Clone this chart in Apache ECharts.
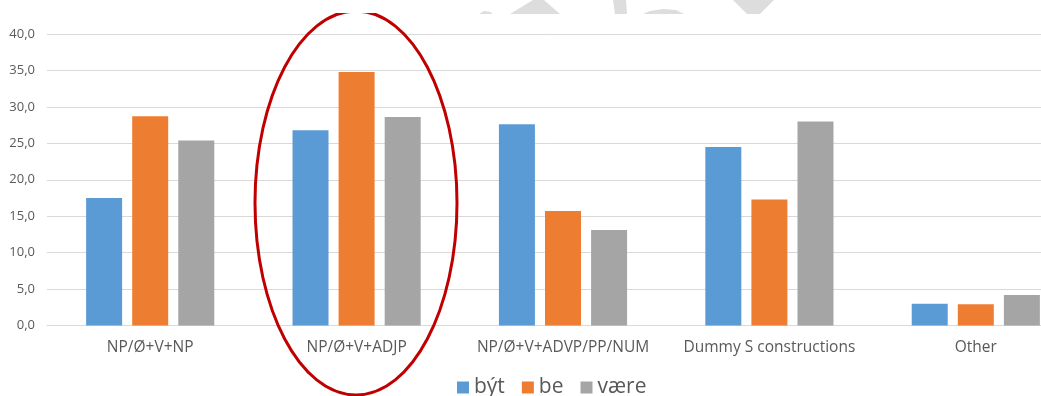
<!DOCTYPE html>
<html>
<head>
<meta charset="utf-8">
<script src="https://cdn.jsdelivr.net/npm/echarts@6/dist/echarts.min.js"></script>
<style>
html,body{margin:0;padding:0;background:#fff;}
#chart{width:1041px;height:396px;}
</style>
</head>
<body>
<div id="chart"></div>
<script>
const categories = ['NP/Ø+V+NP', 'NP/Ø+V+ADJP', 'NP/Ø+V+ADVP/PP/NUM', 'Dummy S constructions', 'Other'];
const bytValues = [17.5, 26.8, 27.6, 24.5, 3.0];
const beValues = [28.7, 34.8, 15.7, 17.3, 2.9];
const vaereValues = [25.4, 28.6, 13.1, 28.0, 4.2];
const seriesNames = ['být', 'be', 'være'];
const colors = ['#5B9BD5', '#ED7D31', '#A5A5A5'];

const chart = echarts.init(document.getElementById('chart'));
const font = '"Open Sans", Lato, sans-serif';
chart.setOption({
  animation: false,
  color: colors,
  textStyle: { fontFamily: font },
  grid: { left: 47, top: 34, width: 1032, height: 291.5, containLabel: false, outerBoundsMode: 'none' },
  legend: {
    left: 452, top: 372,
    itemWidth: 12, itemHeight: 12, itemGap: 17,
    icon: 'rect',
    textStyle: { color: '#595959', fontSize: 21, fontFamily: font },
    data: seriesNames
  },
  xAxis: {
    type: 'category',
    data: categories,
    axisLine: { lineStyle: { color: '#D9D9D9', width: 1 } },
    axisTick: { show: false },
    axisLabel: { color: '#595959', fontSize: 15.5, margin: 14, fontFamily: font, interval: 0 }
  },
  yAxis: {
    type: 'value',
    min: 0, max: 40, interval: 5,
    axisLine: { show: false },
    axisTick: { show: false },
    splitLine: { lineStyle: { color: '#D9D9D9', width: 1 } },
    axisLabel: {
      color: '#595959', fontSize: 13, margin: 12, fontFamily: font,
      formatter: v => v.toFixed(1).replace('.', ',')
    }
  },
  series: [
    { name: seriesNames[0], type: 'bar', data: bytValues, barWidth: 36, barGap: '28%' },
    { name: seriesNames[1], type: 'bar', data: beValues, barWidth: 36, barGap: '28%' },
    { name: seriesNames[2], type: 'bar', data: vaereValues, barWidth: 36, barGap: '28%' }
  ],
  graphic: [
    { type: 'ellipse', z: 100, shape: { cx: 356, cy: 203, rx: 101, ry: 192 }, style: { fill: 'none', stroke: '#C00000', lineWidth: 3 } },
    { type: 'rect', z: 101, shape: { x: 0, y: 0, width: 1041, height: 13 }, style: { fill: '#FFFFFF' } },
    { type: 'polygon', z: 102, shape: { points: [[510,14],[533,0],[544,0],[560,14]] }, style: { fill: '#DDDDDD' } },
    { type: 'polygon', z: 102, shape: { points: [[479,14],[484,11],[491,12],[492,14]] }, style: { fill: '#DDDDDD' } },
    { type: 'polygon', z: 102, shape: { points: [[613,0],[626,0],[627,14],[615,14]] }, style: { fill: '#DDDDDD' } },
    { type: 'polygon', z: 102, shape: { points: [[643,14],[650,11],[663,9],[676,10],[684,14]] }, style: { fill: '#DDDDDD' } },
    { type: 'polygon', z: 102, shape: { points: [[733,0],[774,0],[760,14],[747,14]] }, style: { fill: '#DDDDDD' } }
  ]
});
</script>
</body>
</html>
